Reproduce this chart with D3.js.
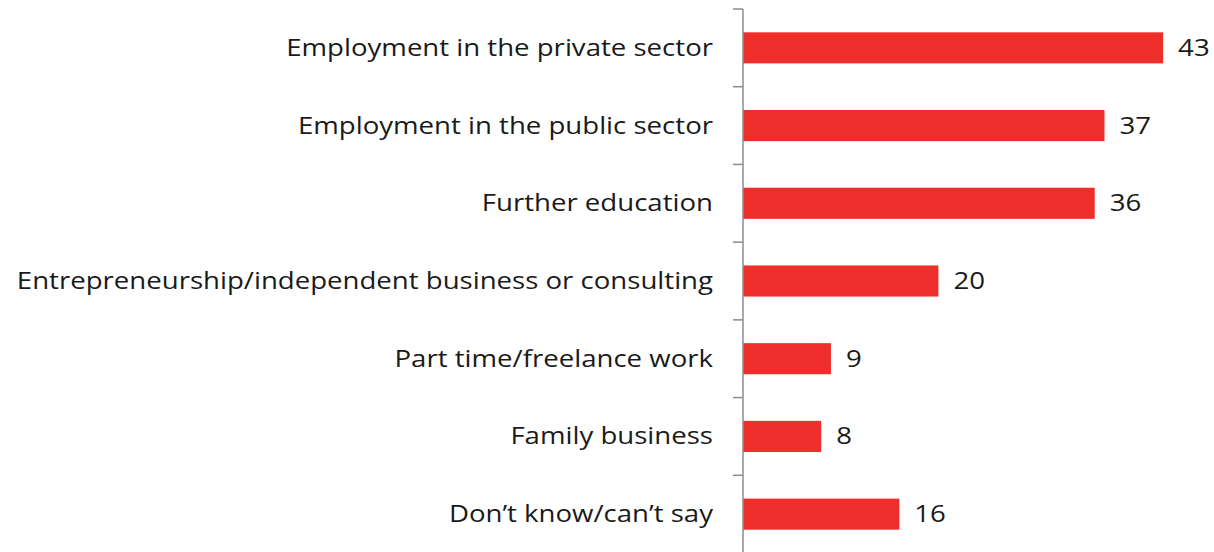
<!DOCTYPE html>
<html>
<head>
<meta charset="utf-8">
<script src="https://cdn.jsdelivr.net/npm/d3@7"></script>
<style>
  html, body { margin: 0; padding: 0; background: #fff; }
  svg { display: block; }
</style>
</head>
<body>
<svg id="chart" width="1214" height="552"></svg>
<script>
// Post-study plans, share of respondents (%)
const categories = [
  "Employment in the private sector",
  "Employment in the public sector",
  "Further education",
  "Entrepreneurship/independent business or consulting",
  "Part time/freelance work",
  "Family business",
  "Don\u2019t know/can\u2019t say"
];
const values = [43, 37, 36, 20, 9, 8, 16];

const svg = d3.select("#chart");
const axisX = 743;
const plotTop = 9, plotBottom = 553;
const textStretch = 1.2;   // labels are set slightly wide

const x = d3.scaleLinear().domain([0, 45]).range([axisX, axisX + 9.77 * 45]);
const y = d3.scaleBand().domain(categories).range([plotTop, plotBottom]).paddingInner(0.6).paddingOuter(0.3);

const fontFamily = "'Open Sans', 'DejaVu Sans', sans-serif";

// bars
svg.append("g").selectAll("rect")
  .data(categories)
  .join("rect")
  .attr("x", x(0))
  .attr("y", d => y(d))
  .attr("width", (d, i) => x(values[i]) - x(0))
  .attr("height", y.bandwidth())
  .attr("fill", "#EE2E2A");

// category axis line and boundary ticks
const g = svg.append("g");
g.append("line")
  .attr("x1", axisX).attr("x2", axisX)
  .attr("y1", plotTop).attr("y2", plotBottom)
  .attr("stroke", "#8c8c8c").attr("stroke-width", 1.5);
const step = y.step();
const boundaries = d3.range(categories.length + 1).map(i => plotTop + i * step);
g.selectAll(".tick").data(boundaries).join("line")
  .attr("x1", axisX - 10).attr("x2", axisX)
  .attr("y1", d => d).attr("y2", d => d)
  .attr("stroke", "#8c8c8c").attr("stroke-width", 1.5);

// category labels
svg.append("g").selectAll("text")
  .data(categories)
  .join("text")
  .attr("transform", d => `translate(${axisX - 30},${y(d) + y.bandwidth() / 2}) scale(${textStretch},1)`)
  .attr("dy", "0.35em")
  .attr("text-anchor", "end")
  .attr("font-family", fontFamily)
  .attr("font-size", 23)
  .attr("fill", "#1a1a1a")
  .text(d => d);

// value labels
svg.append("g").selectAll("text")
  .data(categories)
  .join("text")
  .attr("transform", (d, i) => `translate(${x(values[i]) + 15},${y(d) + y.bandwidth() / 2}) scale(${textStretch},1)`)
  .attr("dy", "0.35em")
  .attr("font-family", fontFamily)
  .attr("font-size", 23)
  .attr("fill", "#1a1a1a")
  .text((d, i) => values[i]);
</script>
</body>
</html>
